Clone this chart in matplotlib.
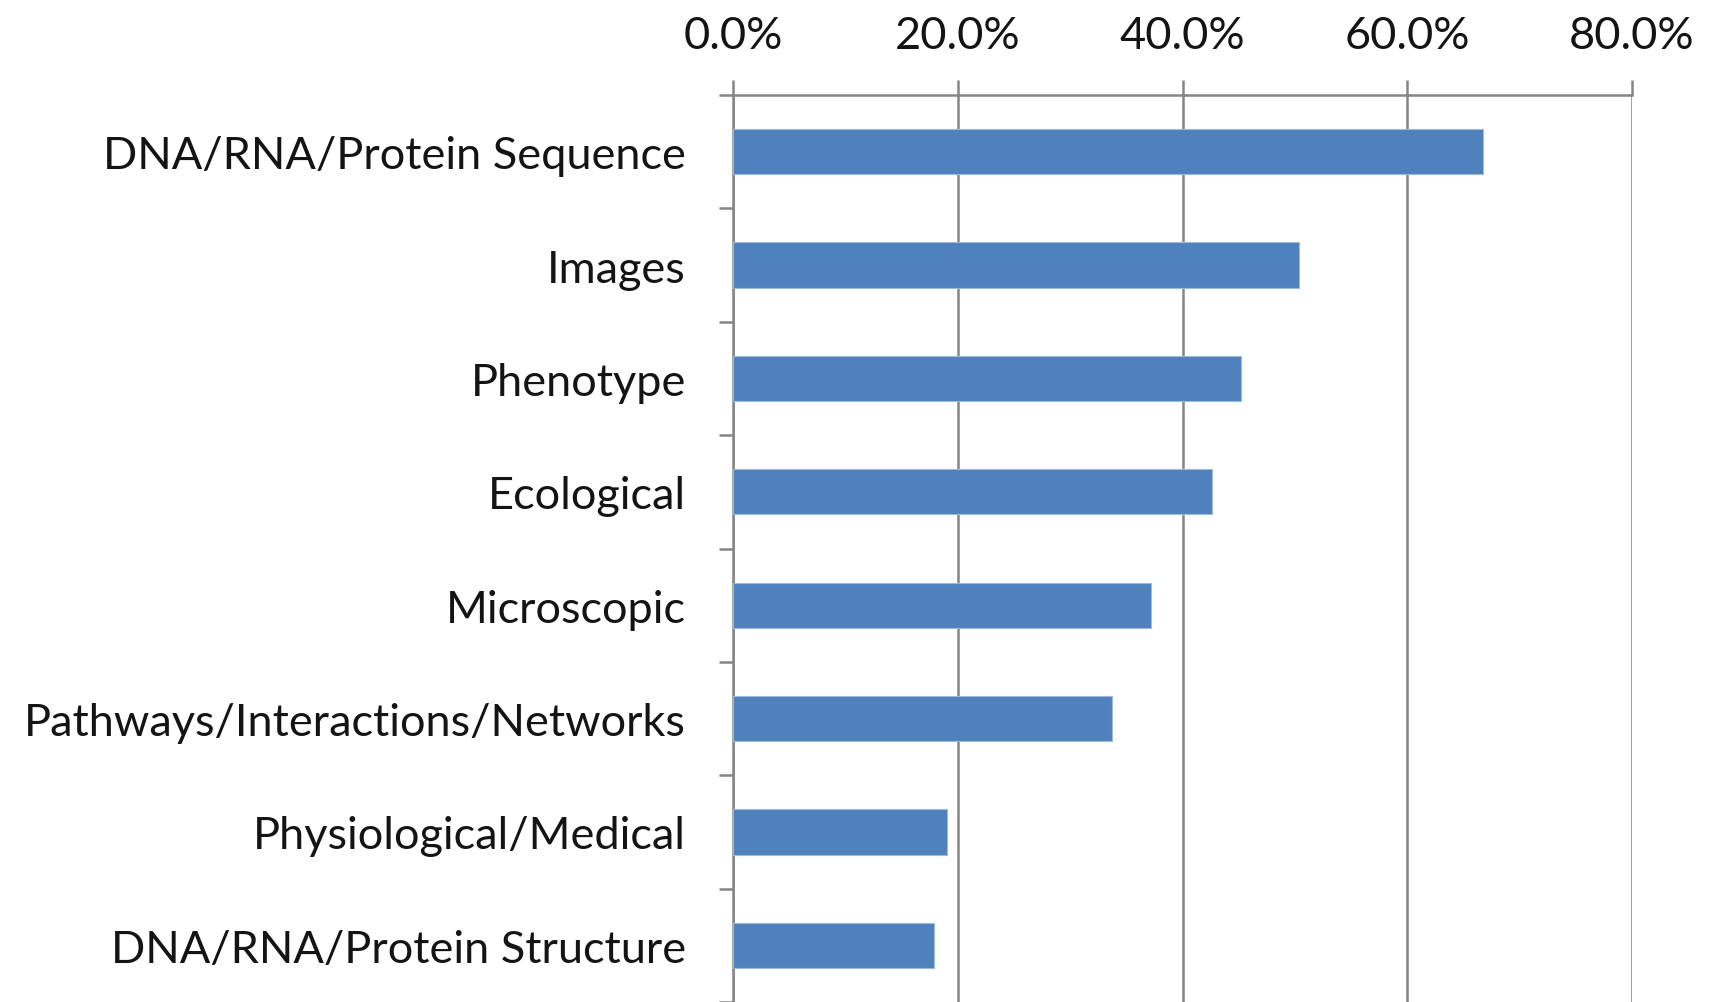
import matplotlib
matplotlib.use("Agg")
import matplotlib.pyplot as plt
import numpy as np
from matplotlib.ticker import FixedLocator, PercentFormatter

categories = ["DNA/RNA/Protein Sequence", "Images", "Phenotype", "Ecological",
              "Microscopic", "Pathways/Interactions/Networks",
              "Physiological/Medical", "DNA/RNA/Protein Structure"]
values = [66.7, 50.4, 45.2, 42.6, 37.2, 33.7, 19.0, 17.9]
xticks = [0, 20, 40, 60, 80]

plt.rcParams['font.family'] = ['Lato', 'DejaVu Sans']

fig = plt.figure(figsize=(17.11, 10.03), dpi=100)
ax = fig.add_axes([733/1711, 0.0, (1632-733)/1711, 1 - 96/1003])

grid_c = "#858585"
y = np.arange(len(categories))
ax.barh(y, values, height=0.4, color="#4F81BD", edgecolor="#9DB9DC", linewidth=0.8, zorder=3)
ax.set_ylim(len(categories) - 0.5, -0.5)
ax.set_xlim(0, 80)

ax.xaxis.set_ticks_position('top')
ax.xaxis.set_label_position('top')
ax.set_xticks(xticks)
ax.xaxis.set_major_formatter(PercentFormatter(decimals=1))
ax.grid(axis='x', color=grid_c, linewidth=1.8, zorder=0)
ax.tick_params(axis='x', which='major', direction='out', length=11, width=1.8,
               color=grid_c, labelsize=32.5, pad=17, labelcolor="#141414")

ax.set_yticks(y)
ax.set_yticklabels(categories)
ax.yaxis.set_minor_locator(FixedLocator(np.arange(len(categories) + 1) - 0.5))
ax.tick_params(axis='y', which='major', length=0, labelsize=32.5, pad=34, labelcolor="#141414")
ax.tick_params(axis='y', which='minor', direction='out', length=10, width=1.8, color=grid_c)

for s in ['right', 'bottom']:
    ax.spines[s].set_visible(False)
for s in ['left', 'top']:
    ax.spines[s].set_color(grid_c)
    ax.spines[s].set_linewidth(1.8)

fig.savefig("out.png", dpi=100, facecolor="white")
